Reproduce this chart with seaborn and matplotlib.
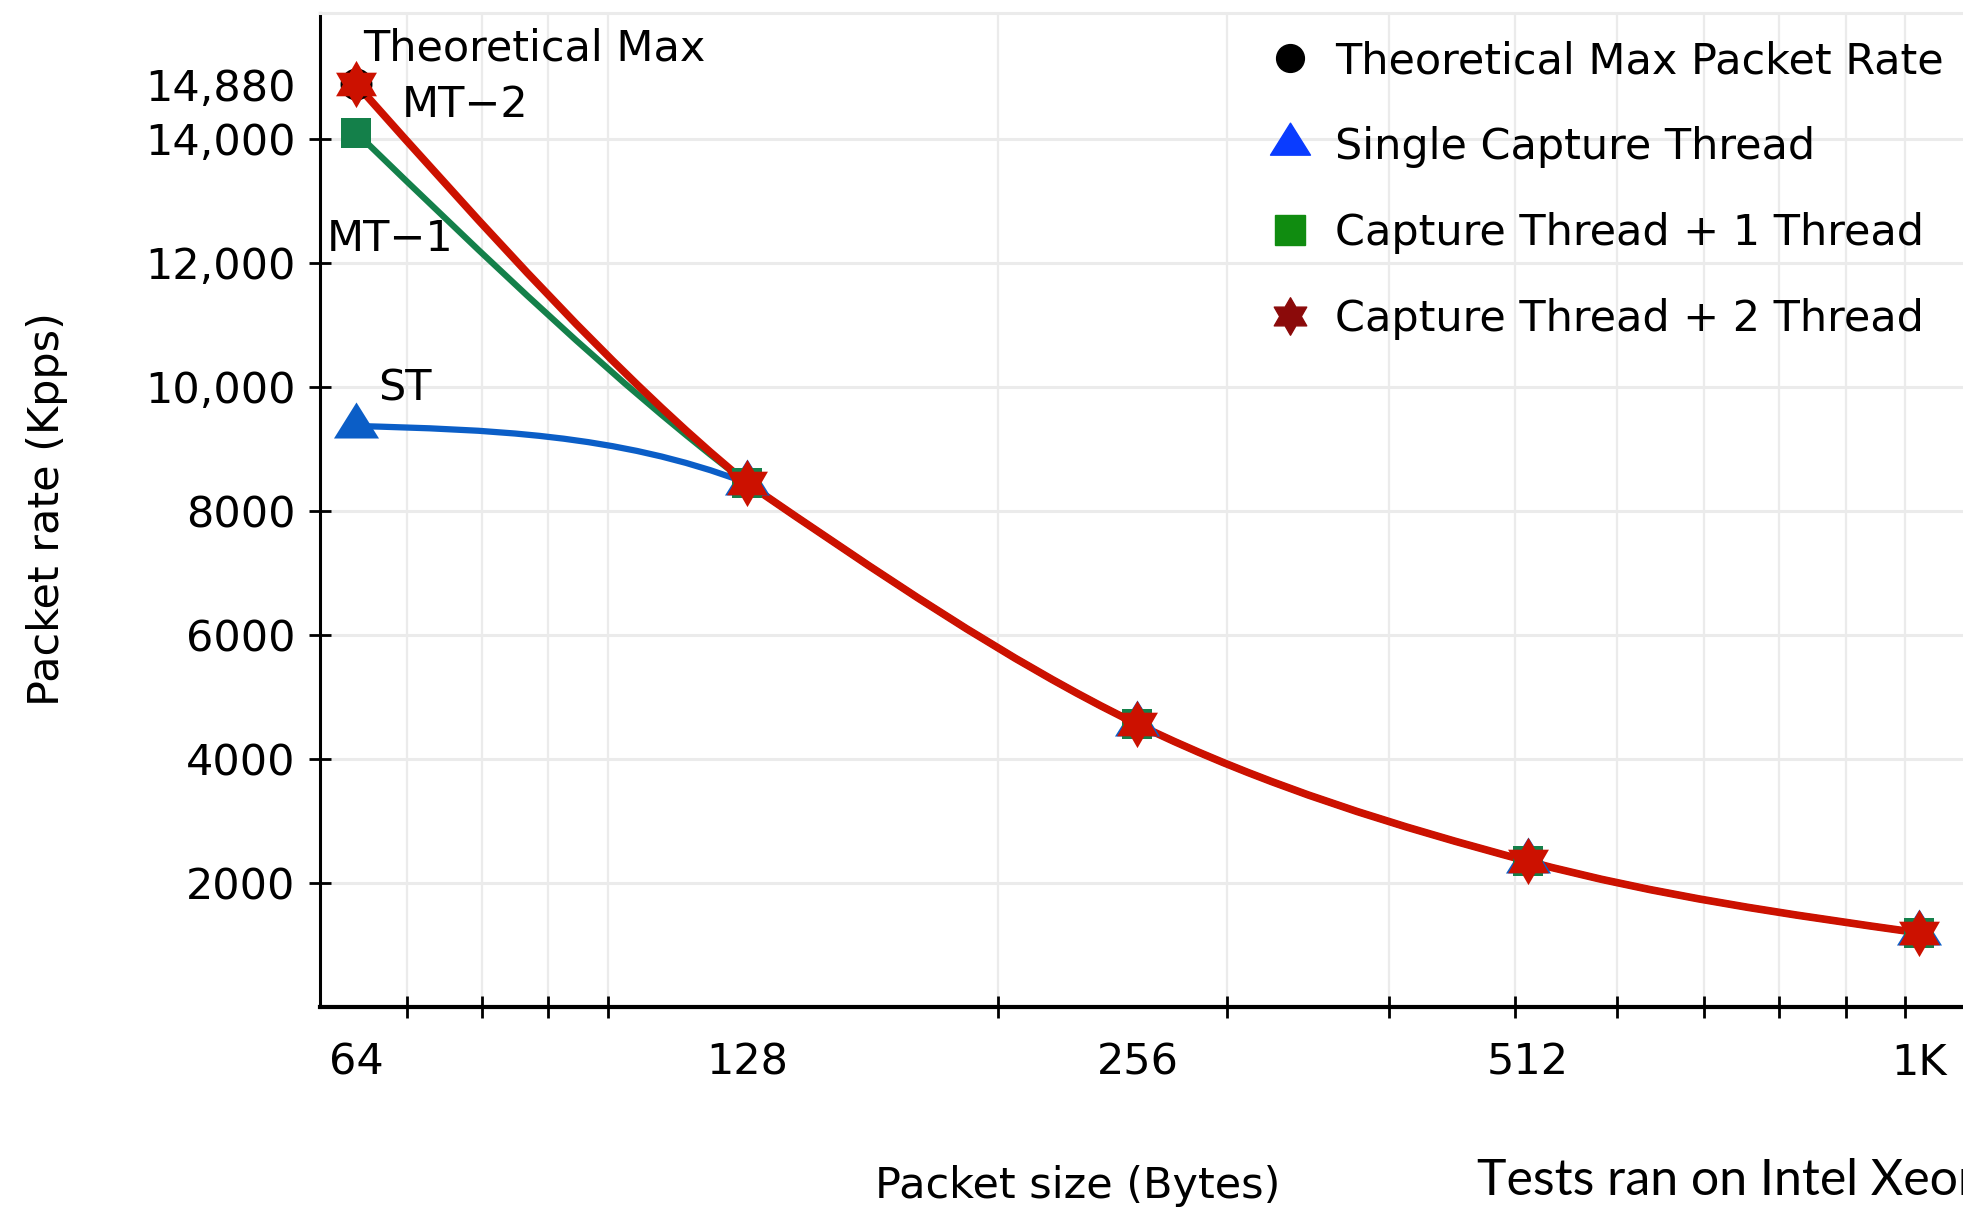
import numpy as np
import pandas as pd
import matplotlib
matplotlib.use("Agg")
import matplotlib.pyplot as plt
import seaborn as sns
from matplotlib.path import Path
from matplotlib.patches import PathPatch
from matplotlib.lines import Line2D
from matplotlib.ticker import FixedLocator, FixedFormatter, NullFormatter

# ---------------- data ----------------
packet_sizes = [64, 128, 256, 512, 1024]
x_tick_labels = ["64", "128", "256", "512", "1K"]
theory_sizes = [64]
theoretical_max = [14880]
single_capture = [9370, 8450, 4560, 2350, 1197]
capture_plus_1 = [14100, 8450, 4560, 2350, 1197]
capture_plus_2 = [14880, 8450, 4560, 2350, 1197]
y_ticks = [2000, 4000, 6000, 8000, 10000, 12000, 14000, 14880]
y_tick_labels = ["2000", "4000", "6000", "8000", "10,000", "12,000", "14,000", "14,880"]
minor_x = [70, 80, 90, 100, 200, 300, 400, 500, 600, 700, 800, 900, 1000]
series_names = ["Theoretical Max Packet Rate", "Single Capture Thread",
                "Capture Thread + 1 Thread", "Capture Thread + 2 Thread"]

sns.set_theme(style="white")
plt.rcParams["font.family"] = ["DejaVu Sans"]
plt.rcParams.update({"text.color": "black", "axes.labelcolor": "black",
                     "xtick.color": "black", "ytick.color": "black"})

FS = 31
GRID = "#EBEBEB"
BLUE, GREEN, RED = "#0B5EC7", "#14804A", "#CC1100"

# marker shapes
tri_marker = Path([(0, 24), (-22.5, -12), (22.5, -12), (0, 24)],
                  [Path.MOVETO, Path.LINETO, Path.LINETO, Path.CLOSEPOLY])
star_marker = Path.unit_regular_star(6, 0.577)


def hermite_pieces(lx, y, m_start, m_end):
    """Bezier pieces (in log2-x space) for consecutive points with given tangents."""
    verts, codes = [], []
    for i in range(len(lx) - 1):
        h = lx[i + 1] - lx[i]
        verts.append((2 ** (lx[i] + h / 3), y[i] + m_start[i] * h / 3))
        verts.append((2 ** (lx[i + 1] - h / 3), y[i + 1] - m_end[i] * h / 3))
        verts.append((2 ** lx[i + 1], y[i + 1]))
        codes += [Path.CURVE4] * 3
    return verts, codes


def catmull_tangents(lx, y):
    n = len(lx)
    m = np.zeros(n)
    for i in range(1, n - 1):
        m[i] = (y[i + 1] - y[i - 1]) / (lx[i + 1] - lx[i - 1])
    s0 = (y[1] - y[0]) / (lx[1] - lx[0])
    sn = (y[-1] - y[-2]) / (lx[-1] - lx[-2])
    m[0] = (3 * s0 - m[1]) / 2
    m[-1] = (3 * sn - m[-2]) / 2
    return m


def smooth_path(xs, ys):
    """Head segment from the first three points, tail spline from the shared points."""
    lx = np.log2(np.asarray(xs, float))
    y = np.asarray(ys, float)
    head = catmull_tangents(lx[:3], y[:3])
    tail = catmull_tangents(lx[1:], y[1:])
    verts = [(xs[0], y[0])]
    codes = [Path.MOVETO]
    v, c = hermite_pieces(lx[:2], y[:2], [head[0]], [head[1]])
    verts += v
    codes += c
    v, c = hermite_pieces(lx[1:], y[1:], tail[:-1], tail[1:])
    verts += v
    codes += c
    return Path(verts, codes)


fig = plt.figure(figsize=(19.63, 12.09), dpi=100)
ax = fig.add_axes([320 / 1963, 1 - 1007 / 1209, 1 - 320 / 1963, (1007 - 13) / 1209])
ax.set_xscale("log", base=2)
ax.set_xlim(60, 1108)
ax.set_ylim(0, 16030)

# grid
ax.grid(axis="y", which="major", color=GRID, lw=2.2, zorder=0)
ax.grid(axis="x", which="minor", color=GRID, lw=1.6, zorder=0)
ax.grid(axis="x", which="major", visible=False)
ax.set_axisbelow(True)

# smooth lines
for ys, col, lw, z in [(single_capture, BLUE, 4.5, 3),
                       (capture_plus_1, GREEN, 4.5, 4),
                       (capture_plus_2, RED, 5.5, 5)]:
    ax.add_patch(PathPatch(smooth_path(packet_sizes, ys), facecolor="none",
                           edgecolor=col, lw=lw, capstyle="round",
                           joinstyle="round", zorder=z))

# markers
sns.scatterplot(x=packet_sizes, y=single_capture, marker=tri_marker, s=34.6 ** 2,
                color=BLUE, linewidth=0, ax=ax, zorder=6, legend=False)
sns.scatterplot(x=packet_sizes, y=capture_plus_1, marker="s", s=22 ** 2,
                color=GREEN, linewidth=0, ax=ax, zorder=7, legend=False)
sns.scatterplot(x=theory_sizes, y=theoretical_max, marker="o", s=23 ** 2,
                color="black", linewidth=0, ax=ax, zorder=8, legend=False)
sns.scatterplot(x=packet_sizes, y=capture_plus_2, marker=star_marker, s=34 ** 2,
                color=RED, linewidth=0, ax=ax, zorder=9, legend=False)

# annotations
ann = [("Theoretical Max", theoretical_max[0], (5, 16.9)),
       ("MT\u22122", capture_plus_2[0], (33, -23.6)),
       ("MT\u22121", capture_plus_1[0], (-21, -85.5)),
       ("ST", single_capture[0], (16, 18.4))]
for txt, yv, off in ann:
    ax.annotate(txt, xy=(packet_sizes[0], yv), xytext=off, textcoords="offset points",
                ha="left", va="baseline", fontsize=FS, color="black", zorder=10)

# x ticks
ax.xaxis.set_major_locator(FixedLocator(packet_sizes))
ax.xaxis.set_major_formatter(FixedFormatter(x_tick_labels))
ax.xaxis.set_minor_locator(FixedLocator(minor_x))
ax.xaxis.set_minor_formatter(NullFormatter())
ax.tick_params(axis="x", which="major", length=0, pad=25, labelsize=FS,
               labelcolor="black")
ax.tick_params(axis="x", which="minor", direction="inout", length=16, width=2,
               color="black", bottom=True)

# y ticks
ax.yaxis.set_major_locator(FixedLocator(y_ticks))
ax.yaxis.set_major_formatter(FixedFormatter(y_tick_labels))
ax.tick_params(axis="y", which="major", direction="inout", length=16, width=2,
               pad=9.5, labelsize=FS, color="black", labelcolor="black", left=True)
ytk = ax.yaxis.get_major_ticks()
ytk[-1].gridline.set_visible(False)
ytk[-1].tick1line.set_visible(False)

# spines
ax.spines["left"].set_color("black")
ax.spines["left"].set_linewidth(2.2)
ax.spines["bottom"].set_color("black")
ax.spines["bottom"].set_linewidth(3.0)
ax.spines["top"].set_color(GRID)
ax.spines["top"].set_linewidth(2.2)
ax.spines["right"].set_visible(False)

# axis labels
fig.text(47 / 1963, 1 - 509 / 1209, "Packet rate (Kpps)", rotation=90, ha="center",
         va="center", fontsize=FS, color="black")
fig.text(1078 / 1963, 1 - 1186 / 1209, "Packet size (Bytes)", ha="center", va="center",
         fontsize=FS, color="black")
fig.text(1477 / 1963, 1 - 1195 / 1209, "Tests ran on Intel Xeon", ha="left",
         va="baseline", fontsize=36, color="black", family=["Lato", "DejaVu Sans"])

# legend
handles = [
    Line2D([], [], ls="none", marker="o", color="black", ms=20),
    Line2D([], [], ls="none", marker=tri_marker, color="#0A3CFF", ms=30.7),
    Line2D([], [], ls="none", marker="s", color="#108C10", ms=21),
    Line2D([], [], ls="none", marker=star_marker, color="#8B0A0A", ms=27),
]
leg = ax.legend(handles, series_names, loc="upper right",
                bbox_to_anchor=(1.0, 1.0 - 8 / 994),
                frameon=False, fontsize=FS, labelspacing=1.02, handlelength=1.0,
                handletextpad=0.55, borderaxespad=0, borderpad=0.45)
for t in leg.get_texts():
    t.set_color("black")

fig.savefig("out.png", dpi=100)
